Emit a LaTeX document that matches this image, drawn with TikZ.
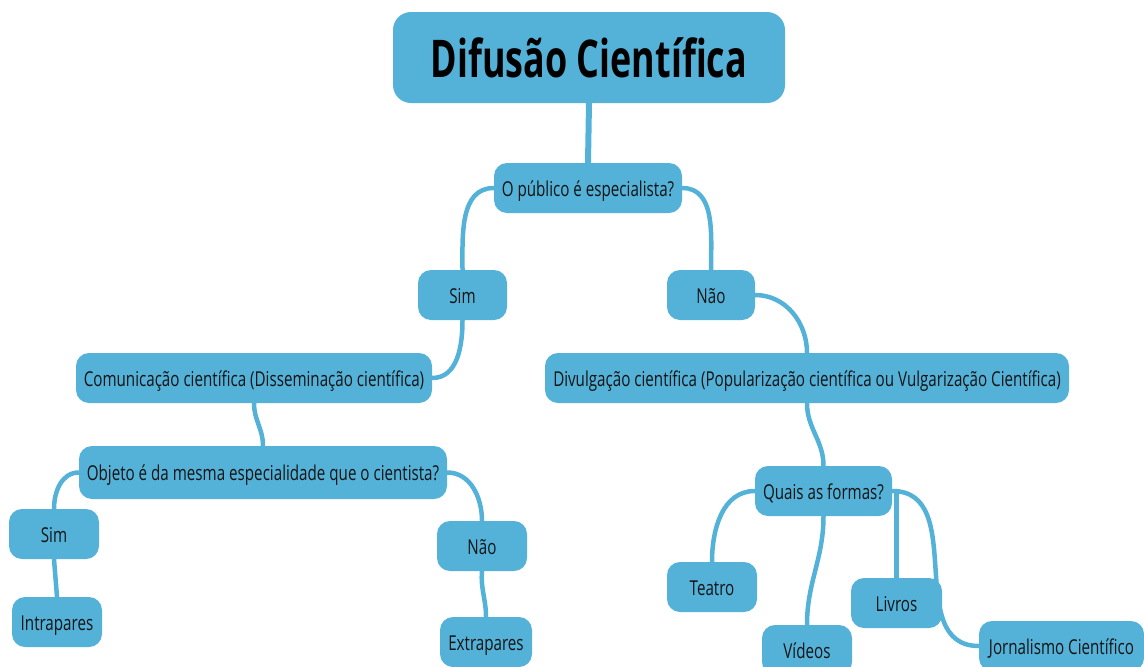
\documentclass[tikz,border=0pt]{standalone}
\usepackage{fontspec}
\setmainfont{Open Sans}[FakeStretch=0.74]
\newfontfamily\titlefont{Open Sans}[FakeStretch=0.69]
\usetikzlibrary{backgrounds}
\definecolor{boxblue}{RGB}{84,178,217}
\definecolor{ink}{RGB}{20,20,20}
\begin{document}
\begin{tikzpicture}[x=1pt,y=-1pt,
  box/.style={fill=boxblue, rounded corners=13pt, minimum height=50pt, inner xsep=6pt, inner ysep=0pt,
    text height=18pt, text depth=2pt, text=ink, font=\fontsize{20.5}{24}\selectfont},
  link/.style={draw=boxblue, line width=4.5pt, line cap=round}]
\useasboundingbox (0,0) rectangle (1144,667);
\node[box, minimum width=392pt, minimum height=91pt, rounded corners=18pt, text height=44pt, text depth=5pt,
  font=\titlefont\fontsize{52}{60}\bfseries\selectfont, text=black] (title) at (589,57.5) {Difusão Científica};
\node[box, minimum width=188pt] (pub) at (588,188) {O público é especialista?};
\node[box, minimum width=89pt] (sim1) at (462.5,295) {Sim};
\node[box, minimum width=88pt] (nao1) at (711,295) {Não};
\node[box, minimum width=356pt] (com) at (254,378) {Comunicação científica (Disseminação científica)};
\node[box, minimum width=524pt] (div) at (807,378) {Divulgação científica (Popularização científica ou Vulgarização Científica)};
\node[box, minimum width=368pt, minimum height=53pt] (obj) at (263,472.5) {Objeto é da mesma especialidade que o cientista?};
\node[box, minimum width=90pt] (sim2) at (54,534) {Sim};
\node[box, minimum width=90pt] (intra) at (57,622) {Intrapares};
\node[box, minimum width=90pt] (nao2) at (482,546) {Não};
\node[box, minimum width=92pt] (extra) at (486,642) {Extrapares};
\node[box, minimum width=137pt] (quais) at (823.5,491) {Quais as formas?};
\node[box, minimum width=90pt] (teatro) at (712,587) {Teatro};
\node[box, minimum width=90pt] (videos) at (807,650) {Vídeos};
\node[box, minimum width=91pt] (livros) at (896.5,603) {Livros};
\node[box, minimum width=165pt] (jorn) at (1061.5,646) {Jornalismo Científico};
\begin{scope}[on background layer]
\draw[link, line width=6pt] (title.south) -- (pub.north);
\draw[link] (pub.west) to[out=180,in=90] (sim1.north);
\draw[link] (pub.east) to[out=0,in=90] (nao1.north);
\draw[link] (sim1.south) to[out=-90,in=0] (com.east);
\draw[link] (nao1.east) to[out=0,in=90] (div.north);
\draw[link] (com.south) to[out=-90,in=90] (obj.north);
\draw[link] (div.south) to[out=-90,in=90] (quais.north);
\draw[link] (obj.west) to[out=180,in=90] (sim2.north);
\draw[link] (obj.east) to[out=0,in=90] (nao2.north);
\draw[link] (sim2.south) -- (intra.north);
\draw[link] (nao2.south) to[out=-95,in=90] (extra.north);
\draw[link] (quais.west) to[out=180,in=90] (teatro.north);
\draw[link] (quais.south) to[out=-90,in=90] (videos.north);
\draw[link] (livros.north) -- (livros.north |- quais.east);
\draw[link] (quais.east) to[out=0,in=180,looseness=1.1] (jorn.west);
\end{scope}
\end{tikzpicture}
\end{document}
